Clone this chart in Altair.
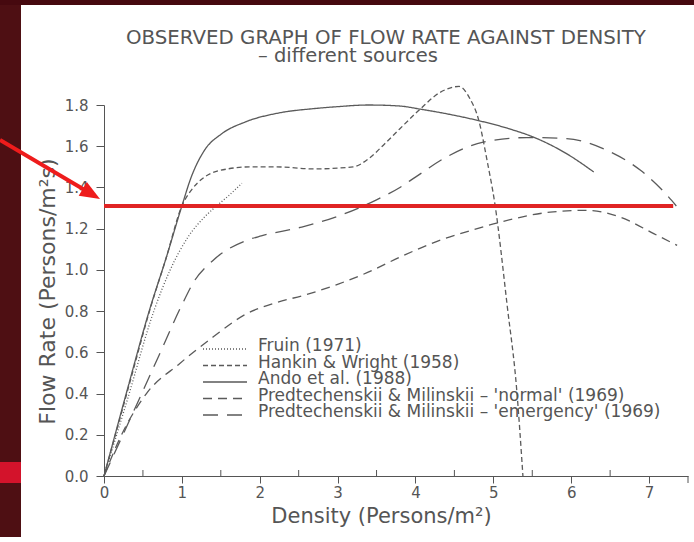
import altair as alt
import pandas as pd

# ---------------- data ----------------
series_names = [
    "Fruin (1971)",
    "Hankin & Wright (1958)",
    "Ando et al. (1988)",
    "Predtechenskii & Milinskii – 'normal' (1969)",
    "Predtechenskii & Milinskii – 'emergency' (1969)",
]

fruin_x = [0, 0.3, 0.64, 0.85, 1.08, 1.3, 1.445, 1.6, 1.77]
fruin_y = [0, 0.37, 0.80, 1.00, 1.16, 1.26, 1.31, 1.36, 1.42]

hankin_x = [0, 0.3, 0.6, 0.8, 1.0, 1.12, 1.29, 1.59, 1.9, 2.2, 2.7, 3.2, 3.4, 3.6, 3.8,
            4.06, 4.31, 4.56, 4.7, 4.81, 4.92, 5.02, 5.18, 5.3, 5.38]
hankin_y = [0, 0.41, 0.82, 1.06, 1.31, 1.386, 1.45, 1.49, 1.50, 1.50, 1.49, 1.50, 1.54, 1.61, 1.685,
            1.78, 1.86, 1.89, 1.83, 1.73, 1.53, 1.32, 0.82, 0.42, 0.0]

ando_x = [0, 0.3, 0.58, 0.8, 1.0, 1.12, 1.29, 1.51, 1.81, 2.24, 2.71, 3.0, 3.4, 3.8,
          4.06, 4.5, 4.79, 5.2, 5.51, 5.94, 6.29]
ando_y = [0, 0.42, 0.80, 1.06, 1.31, 1.45, 1.58, 1.66, 1.717, 1.761, 1.783, 1.792, 1.80, 1.795,
          1.78, 1.75, 1.726, 1.685, 1.645, 1.564, 1.475]

normal_x = [0, 0.2, 0.545, 0.97, 1.4, 1.83, 2.2, 2.6, 3.0, 3.4, 3.8, 4.31, 4.7, 5.09,
            5.73, 6.2, 6.63, 7.06, 7.36]
normal_y = [0, 0.18, 0.40, 0.545, 0.674, 0.787, 0.84, 0.88, 0.93, 0.99, 1.062, 1.143, 1.19, 1.232,
            1.28, 1.289, 1.256, 1.176, 1.119]

emerg_x = [0, 0.4, 0.7, 1.0, 1.15, 1.4, 1.83, 2.02, 2.54, 3.0, 3.5, 3.8, 4.0, 4.4, 4.87,
           5.43, 5.94, 6.46, 6.89, 7.29, 7.35]
emerg_y = [0, 0.33, 0.58, 0.83, 0.94, 1.046, 1.143, 1.165, 1.208, 1.26, 1.34, 1.40, 1.45, 1.548, 1.62,
           1.642, 1.637, 1.58, 1.483, 1.337, 1.31]

dash_patterns = [[1, 2], [5, 3], [1, 0], [9, 6], [15, 9]]

x_tick_values = [0, 1, 2, 3, 4, 5, 6, 7]
x_end_tick = [7.5]
x_minor_ticks = [0.5, 1.5, 2.5, 3.5, 4.5, 5.5, 6.5]
y_tick_values = [0, 0.2, 0.4, 0.6, 0.8, 1.0, 1.2, 1.4, 1.6, 1.8]

threshold_y = [1.31]
threshold_x_start = [0]
threshold_x_end = [7.31]

title_lines = ["OBSERVED GRAPH OF FLOW RATE AGAINST DENSITY", "– different sources"]
x_title = "Density (Persons/m²)"
y_title = "Flow Rate (Persons/m²s)"

# ---------------- build table ----------------
rows = []
for name, xs, ys in zip(series_names,
                        [fruin_x, hankin_x, ando_x, normal_x, emerg_x],
                        [fruin_y, hankin_y, ando_y, normal_y, emerg_y]):
    for i, (a, b) in enumerate(zip(xs, ys)):
        rows.append({"series": name, "x": a, "y": b, "order": i})
curves = pd.DataFrame(rows)

W, H = 584, 371
GRAY = "#555555"
LINE_GRAY = "#5a5a5a"
FONT = "DejaVu Sans"

xscale = alt.Scale(domain=[0, 7.5], nice=False, zero=False)
yscale = alt.Scale(domain=[0, 1.8], nice=False, zero=False)

xaxis = alt.Axis(values=x_tick_values, labelOverlap=False, labelSeparation=0,
                 title=x_title, grid=False, tickSize=7, labelPadding=2,
                 titleX=277, titleY=46, titleAlign="center", titleBaseline="alphabetic",
                 titleFontSize=21, labelFlush=False, labelBound=False)
yaxis = alt.Axis(values=y_tick_values, format=".1f", title=y_title, grid=False,
                 labelOverlap=False,
                 tickSize=8, labelPadding=8, titleAngle=270, titleX=-57, titleY=186,
                 titleAlign="center", titleBaseline="middle", titleFontSize=22)

X = alt.X("x:Q", scale=xscale, axis=xaxis)
Y = alt.Y("y:Q", scale=yscale, axis=yaxis)

one = alt.Data(values=[{"k": 0}])

# slide decoration
left_strip = alt.Chart(one).mark_rect(color="#4e0f13").encode(
    x=alt.value(-104), x2=alt.value(-83), y=alt.value(-105), y2=alt.value(437))
top_strip = alt.Chart(one).mark_rect(color="#46090f").encode(
    x=alt.value(-104), x2=alt.value(590), y=alt.value(-105), y2=alt.value(-100))
red_band = alt.Chart(one).mark_rect(color="#d3132b").encode(
    x=alt.value(-104), x2=alt.value(-83), y=alt.value(357), y2=alt.value(378))

lines = alt.Chart(curves).mark_line(interpolate="monotone", strokeWidth=1.3, color=LINE_GRAY).encode(
    x=X, y=Y,
    strokeDash=alt.StrokeDash(
        "series:N",
        scale=alt.Scale(domain=series_names, range=dash_patterns),
        sort=series_names,
        legend=None),
    detail="series:N",
    order="order:Q",
)

# legend drawn in the plot, as in the reference
legend_layers = []
for i, (name, dash) in enumerate(zip(series_names, dash_patterns)):
    ty = 241 + 16.5 * i
    legend_layers.append(
        alt.Chart(one).mark_rule(color=LINE_GRAY, strokeWidth=1.3, strokeDash=dash).encode(
            x=alt.value(99), x2=alt.value(143), y=alt.value(ty + 3)))
    legend_layers.append(
        alt.Chart(one).mark_text(text=name, font=FONT, fontSize=17, color=GRAY,
                                 align="left", baseline="middle").encode(
            x=alt.value(154), y=alt.value(ty)))

# half-unit ticks point up into the plot, the end tick points down
minor = alt.Chart(pd.DataFrame({"x": x_minor_ticks})).mark_rule(color=GRAY, strokeWidth=1).encode(
    x=X, y=alt.value(H - 6), y2=alt.value(H))
end_tick = alt.Chart(pd.DataFrame({"x": x_end_tick})).mark_rule(color=GRAY, strokeWidth=1).encode(
    x=X, y=alt.value(H), y2=alt.value(H + 7))

thr = pd.DataFrame({"x": threshold_x_start, "x2": threshold_x_end, "y": threshold_y})
red_line = alt.Chart(thr).mark_rule(color="#e02424", strokeWidth=4).encode(
    x=X, x2="x2:Q", y=Y)

arrow_shaft = alt.Chart(one).mark_rule(color="#ee1c1c", strokeWidth=4).encode(
    x=alt.value(-104), y=alt.value(35), x2=alt.value(-18), y2=alt.value(85.7))
arrow_head = alt.Chart(one).mark_point(
    shape="M0,0 L-2,-0.8 L-2,0.8 Z", angle=30.5, filled=True, size=400,
    color="#ee1c1c", opacity=1).encode(x=alt.value(-4), y=alt.value(94))

t1 = alt.Chart(one).mark_text(text=title_lines[0], font=FONT, fontSize=19.8, color=GRAY,
                              align="left", baseline="alphabetic").encode(
    x=alt.value(22), y=alt.value(-61))
t2 = alt.Chart(one).mark_text(text=title_lines[1], font=FONT, fontSize=19.5, color=GRAY,
                              align="left", baseline="alphabetic").encode(
    x=alt.value(154), y=alt.value(-43))

chart = alt.layer(
    left_strip, top_strip, red_band, lines, *legend_layers, minor, end_tick, red_line,
    arrow_shaft, arrow_head, t1, t2
).properties(
    width=W, height=H,
    autosize=alt.AutoSizeParams(type="none"),
    padding={"left": 104, "top": 105, "right": 6, "bottom": 61},
).configure(background="white").configure_view(stroke=None).configure_axis(
    labelFont=FONT, labelFontSize=15, labelColor=GRAY, titleFont=FONT, titleColor=GRAY,
    titleFontWeight="normal", domainColor=GRAY, tickColor=GRAY, domainWidth=1, tickWidth=1,
    labelOverlap=False,
)

chart.save("out.html", embed_options={"renderer": "svg", "actions": False})
